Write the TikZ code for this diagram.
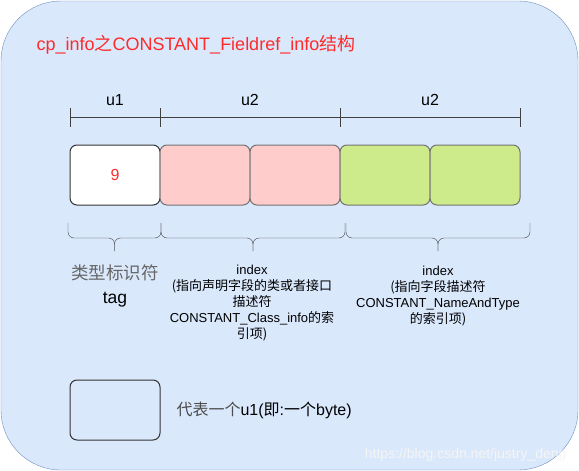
\documentclass[tikz,border=0pt]{standalone}
\usepackage{fontspec}
\setmainfont{Liberation Sans}
\newfontfamily\cjk{Noto Sans CJK SC}
\usetikzlibrary{positioning}
\usetikzlibrary{calc}
\usepackage{xcolor}
\definecolor{panelfill}{HTML}{DAE8FC}
\definecolor{panelline}{HTML}{6C8EBF}
\definecolor{pinkcell}{HTML}{FFCCCC}
\definecolor{greencell}{HTML}{CDEB8B}
\definecolor{titlered}{HTML}{FF2B2B}

\begin{document}
\begin{tikzpicture}[x=1pt,y=-1pt,
  cell/.style={draw=black!80, line width=1pt, rounded corners=7pt, minimum width=90pt, minimum height=60pt, inner sep=0pt},
  curly/.style={draw=black!75, rounded corners=6pt},
  fieldtxt/.style={font=\fontsize{16}{18}\selectfont},
  notetxt/.style={align=center, font=\fontsize{13}{16}\selectfont}]
\useasboundingbox (0,0) rectangle (579,471);
\draw[panelline, fill=panelfill, rounded corners=60pt] (1,1) rectangle (578,470);
\node[titlered, anchor=west, font=\fontsize{18}{20}\selectfont] (title) at (33,45)
  {cp\_info{\cjk 之}CONSTANT\_Fieldref\_info{\cjk 结构}};
% byte ruler
\foreach \x [count=\i] in {70,160,340,520} {
\coordinate (t\i) at (\x,117);
\draw[black!75, semithick] (\x,108)--++(0,19);
}
\draw[black!75, semithick] (t1)--(t4);
\node[fieldtxt] (w1) at (115,100) {u1};
\node[fieldtxt] (w2) at (250,100) {u2};
\node[fieldtxt] (w3) at (430,100) {u2};
% the five bytes
\foreach \x/\c/\e [count=\i] in {115/white/80,205/pinkcell/55,295/pinkcell/55,385/greencell/55,475/greencell/55} {
\node[cell, fill=\c, draw=black!\e] (c\i) at (\x,175) {};
}
\node[titlered, fieldtxt] (nine) at (c1) {9};
% braces
\foreach \a/\b [evaluate=\a as \m using (\a+\b)/2] in {68/161,161/345,346/530} {
\draw[curly] (\a,223) |- (\m,238) -- (\m,251);
\draw[curly] (\b,223) |- (\m,238) -- (\m,251);
}
\node[align=center, font=\fontsize{17.5}{24}\selectfont] (tag) at (115,286) {{\cjk\color{black!60}类型标识符}\\tag};
\node[notetxt] (idx1) at (252,303) {index\\{\cjk (指向声明字段的类或者接口}\\{\cjk 描述符}\\CONSTANT\_Class\_info{\cjk 的索}\\{\cjk 引项)}};
\node[notetxt] (idx2) at (438,296) {index\\{\cjk (指向字段描述符}\\CONSTANT\_NameAndType\\{\cjk 的索引项)}};
% legend
\node[cell, fill=panelfill] (key) at (115,410) {};
\node[anchor=west, font=\fontsize{16}{18}\selectfont] (keytxt) at (173,410) {{\cjk\color{black!70}代表一个}u1({\cjk 即}:{\cjk 一个}byte)};
\node[anchor=east, white!92!gray, font=\fontsize{14}{16}\selectfont] (mark) at (570,455) {https://blog.csdn.net/justry\_deng};
\end{tikzpicture}
\end{document}
